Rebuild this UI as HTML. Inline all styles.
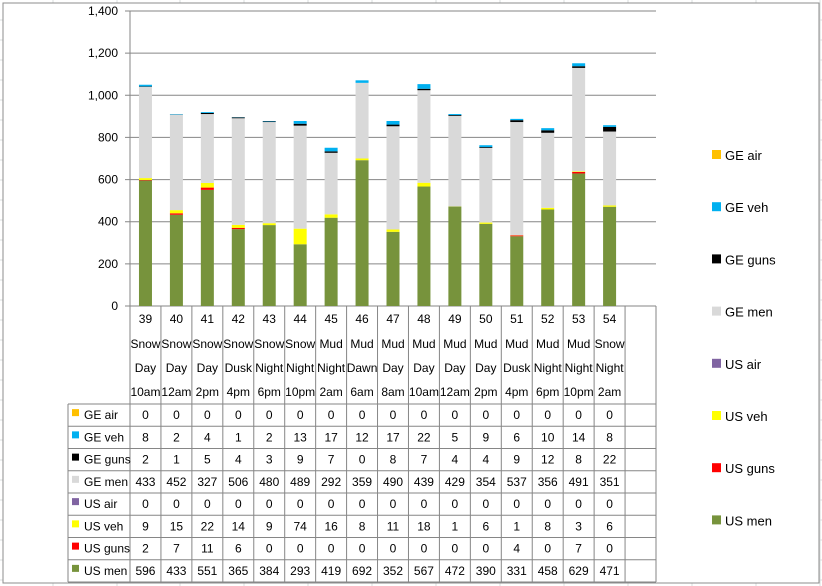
<!DOCTYPE html>
<html><head><meta charset="utf-8"><style>
body{margin:0;background:#fff;}
svg{display:block;font-family:"Liberation Sans",sans-serif;}
</style></head><body>
<svg id="c" width="822" height="586"></svg>
<script>
const categories=["39","40","41","42","43","44","45","46","47","48","49","50","51","52","53","54"];
const terrain=["Snow","Snow","Snow","Snow","Snow","Snow","Mud","Mud","Mud","Mud","Mud","Mud","Mud","Mud","Mud","Snow"];
const period=["Day","Day","Day","Dusk","Night","Night","Night","Dawn","Day","Day","Day","Day","Dusk","Night","Night","Night"];
const timeLabels=["10am","12am","2pm","4pm","6pm","10pm","2am","6am","8am","10am","12am","2pm","4pm","6pm","10pm","2am"];
const usMen=[596,433,551,365,384,293,419,692,352,567,472,390,331,458,629,471];
const usGuns=[2,7,11,6,0,0,0,0,0,0,0,0,4,0,7,0];
const usVeh=[9,15,22,14,9,74,16,8,11,18,1,6,1,8,3,6];
const usAir=[0,0,0,0,0,0,0,0,0,0,0,0,0,0,0,0];
const geMen=[433,452,327,506,480,489,292,359,490,439,429,354,537,356,491,351];
const geGuns=[2,1,5,4,3,9,7,0,8,7,4,4,9,12,8,22];
const geVeh=[8,2,4,1,2,13,17,12,17,22,5,9,6,10,14,8];
const geAir=[0,0,0,0,0,0,0,0,0,0,0,0,0,0,0,0];
const yTicks=[0,200,400,600,800,1000,1200,1400];
const stackOrder=[["US men",usMen,"#77933c"],["US guns",usGuns,"#ff0000"],["US veh",usVeh,"#ffff00"],["US air",usAir,"#8064a2"],["GE men",geMen,"#d9d9d9"],["GE guns",geGuns,"#000000"],["GE veh",geVeh,"#00b0f0"],["GE air",geAir,"#ffc000"]];
const tableOrder=[7,6,5,4,3,2,1,0];

const svg=document.getElementById('c');
const NS='http://www.w3.org/2000/svg';
function mk(t,a,p){const e=document.createElementNS(NS,t);for(const k in a)e.setAttribute(k,a[k]);(p||svg).appendChild(e);return e;}
const X0=130,X1=656,Y0=306,Y1=11,YMAX=1400;
const colW=(X1-X0)/(categories.length+1);
const y=v=>Y0-(v/YMAX)*(Y0-Y1);
const xc=i=>X0+colW*(i+0.5);

// spreadsheet background lines
for(const gx of [53,117,180,244,308,372,436,500,564,628,692,756,820]){const l=mk('line',{x1:gx,y1:0,x2:gx,y2:586,stroke:'#dadcdd'});}
for(let gy=20;gy<586;gy+=20){const l=mk('line',{x1:0,y1:gy,x2:822,y2:gy,stroke:'#dadcdd'});}
const area=mk('rect',{x:3,y:3,width:816,height:580,fill:'#fff',stroke:'#8c8c8c'});


// y gridlines and labels
yTicks.forEach(t=>{
 const l=mk('line',{x1:X0-5,y1:y(t),x2:X1,y2:y(t),stroke:'#868686'});
 
 const tx=mk('text',{x:118,y:y(t)+4,'text-anchor':'end','font-size':'12',fill:'#000'});
 tx.textContent=t.toLocaleString('en-US');
 
});
const ax=mk('line',{x1:X0,y1:Y1,x2:X0,y2:Y0,stroke:'#868686'});


// bars
const bw=13;
categories.forEach((c,i)=>{
 let acc=0;
 stackOrder.forEach(([nm,arr,col])=>{
  const v=arr[i]; if(!v){return;}
  const r=mk('rect',{x:xc(i)-bw/2,y:y(acc+v),width:bw,height:y(acc)-y(acc+v),fill:col});
  
  
  acc+=v;
 });
});

// table
const T0=306,Tlab=404,RH=(582-404)/8;
const gl=(x1,y1,x2,y2)=>{const l=mk('line',{x1,y1,x2,y2,stroke:'#868686'});};
for(let k=0;k<=categories.length+1;k++){gl(X0+colW*k,T0,X0+colW*k,582);}
gl(68,Tlab,68,582);
for(let r=0;r<=8;r++){gl(68,Tlab+RH*r,X1,Tlab+RH*r);}
categories.forEach((c,i)=>{
 [c,terrain[i],period[i],timeLabels[i]].forEach((s,j)=>{
  const t=mk('text',{x:xc(i),y:[323,348,372,396][j],'text-anchor':'middle','font-size':'12'});
  t.textContent=s;
 });
});
tableOrder.forEach((si,r)=>{
 const [nm,arr,col]=stackOrder[si];
 const cy=Tlab+RH*r+RH/2;
 const k=mk('rect',{x:72,y:cy-6,width:7,height:7,fill:col});
 
 const t=mk('text',{x:84,y:cy+4,'font-size':'12'});t.textContent=nm;
 
 arr.forEach((v,i)=>{
  const tv=mk('text',{x:xc(i),y:cy+4,'text-anchor':'middle','font-size':'12'});tv.textContent=v;
  
 });
});

// legend
tableOrder.forEach((si,r)=>{
 const [nm,arr,col]=stackOrder[si];
 const ly=156+r*52.2;
 const g=mk('g',{});
 
 mk('rect',{x:712,y:ly-6,width:9,height:9,fill:col},g);
 const t=mk('text',{x:725,y:ly+4,'font-size':'13'},g);t.textContent=nm;
});
</script>
</body></html>
